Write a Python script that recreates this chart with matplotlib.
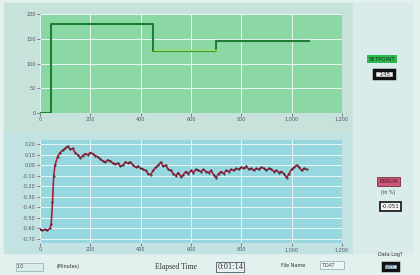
import numpy as np
import matplotlib
matplotlib.use('Agg')
import matplotlib.pyplot as plt
from matplotlib.patches import Rectangle

# setpoint (top chart)
sp_t = [0, 44, 44, 450, 450, 700, 700, 1070]
sp_v = [0, 0, 180, 180, 125, 125, 145, 145]
pv_t = [452, 700]
pv_v = [128, 128]

# error (bottom chart)
err_t = [0, 10, 20, 30, 40, 45, 50, 55] + list(range(60, 1061, 10))
err_v = [-0.61, -0.62, -0.61, -0.62, -0.60, -0.56, -0.35, -0.10,
         0.00, 0.08, 0.12, 0.14, 0.16, 0.18, 0.15, 0.16, 0.12, 0.10,
         0.07, 0.09, 0.11, 0.10, 0.12, 0.11, 0.09, 0.08, 0.06, 0.04,
         0.03, 0.05, 0.04, 0.02, 0.01, 0.02, -0.01, 0.00, 0.03, 0.02,
         0.03, 0.00, -0.02, -0.01, -0.03, -0.04, -0.05, -0.08, -0.09, -0.05,
         -0.02, 0.00, 0.03, -0.01, 0.00, -0.04, -0.05, -0.08, -0.10, -0.07,
         -0.11, -0.09, -0.06, -0.08, -0.05, -0.07, -0.04, -0.05, -0.06, -0.04,
         -0.06, -0.07, -0.05, -0.09, -0.12, -0.08, -0.06, -0.08, -0.05, -0.06,
         -0.04, -0.05, -0.03, -0.04, -0.02, -0.03, -0.01, -0.04, -0.03, -0.05,
         -0.03, -0.04, -0.02, -0.03, -0.05, -0.03, -0.04, -0.06, -0.05, -0.07,
         -0.06, -0.08, -0.12, -0.08, -0.04, -0.02, 0.00, -0.02, -0.05, -0.03,
         -0.04]

x_ticks = [0, 200, 400, 600, 800, 1000, 1200]
x_labels = ['0', '200', '400', '600', '800', '1,000', '1,200']
sp_ticks = [0, 50, 100, 150, 200]
err_ticks = [0.20, 0.10, 0.00, -0.10, -0.20, -0.30, -0.40, -0.50, -0.60, -0.70]


def style_axes(ax, face):
    ax.set_facecolor(face)
    ax.grid(True, color='#e8f6f2', lw=0.7)
    ax.set_axisbelow(True)
    for s in ax.spines.values():
        s.set_visible(False)
    ax.tick_params(labelsize=3.5, length=2, width=0.5, colors='#556', pad=1)
    ax.set_xticks(x_ticks)
    ax.set_xticklabels(x_labels)
    ax.set_xlim(0, 1200)


fig = plt.figure(figsize=(4.2, 2.75), dpi=100)
fig.patch.set_facecolor('#e2f0ee')

# background panels
panels = [((0.01, 0.525), 0.83, 0.465, '#c6e2da'),
          ((0.01, 0.08), 0.83, 0.44, '#c3e2e2'),
          ((0.84, 0.08), 0.14, 0.91, '#d9eceb')]
for xy, w, h, col in panels:
    fig.patches.append(Rectangle(xy, w, h, transform=fig.transFigure,
                                 color=col, zorder=-10))

ax1 = fig.add_axes([0.095, 0.589, 0.719, 0.36])
style_axes(ax1, '#8cd8a4')
ax1.plot(sp_t, sp_v, color='#1f7f34', lw=1.5)
ax1.plot(pv_t, pv_v, color='#a7e25a', lw=1.0)
ax1.set_ylim(0, 200)
ax1.set_yticks(sp_ticks)

ax2 = fig.add_axes([0.095, 0.116, 0.719, 0.375])
style_axes(ax2, '#97d7df')
ax2.plot(err_t, err_v, color='#b01e3c', lw=1.2)
ax2.plot(err_t, err_v, ls='none', marker='.', ms=1.0, color='#402030')
ax2.set_ylim(-0.74, 0.24)
ax2.set_yticks(err_ticks)
ax2.set_yticklabels(['%.2f' % v for v in err_ticks])

# right side widgets
fig.text(0.91, 0.785, 'SETPOINT', fontsize=4, color='#0b3d12', ha='center', va='center',
         bbox=dict(boxstyle='square,pad=0.3', fc='#2cba50', ec='none'))
fig.text(0.915, 0.73, '  145  ', fontsize=4, color='#222', ha='center', va='center',
         bbox=dict(boxstyle='square,pad=0.25', fc='#f0f0f0', ec='#111', lw=2.5))
fig.text(0.925, 0.34, 'ERROR', fontsize=4, color='#5a1020', ha='center', va='center',
         bbox=dict(boxstyle='square,pad=0.4', fc='#c9587a', ec='#7a2a3a', lw=0.6))
fig.text(0.925, 0.30, '(in %)', fontsize=3.5, color='#333', ha='center', va='center')
fig.text(0.93, 0.25, '-0.051', fontsize=4, color='#222', ha='center', va='center',
         bbox=dict(boxstyle='square,pad=0.35', fc='#f4f4f4', ec='#111', lw=1.2))

# bottom widgets
fig.text(0.07, 0.03, '10            ', fontsize=3.5, color='#444', ha='center', va='center',
         bbox=dict(boxstyle='square,pad=0.3', fc='#dcecec', ec='#8aa', lw=0.5))
fig.text(0.135, 0.03, '(Minutes)', fontsize=3.5, color='#333', ha='left', va='center')
fig.text(0.37, 0.028, 'Elapsed Time', fontsize=5.5, color='#333', ha='left', va='center',
         family='Liberation Serif')
fig.text(0.548, 0.03, '0:01:14', fontsize=6, color='#333', ha='center', va='center',
         family='Liberation Serif',
         bbox=dict(boxstyle='square,pad=0.15', fc='#e8f2f2', ec='#556', lw=0.6))
fig.text(0.67, 0.035, 'File Name', fontsize=3.5, color='#333', ha='left', va='center')
fig.text(0.79, 0.035, 'T.DAT     ', fontsize=3.5, color='#444', ha='center', va='center',
         bbox=dict(boxstyle='square,pad=0.3', fc='#eef6f6', ec='#8aa', lw=0.5))
fig.text(0.93, 0.075, 'Data Log?', fontsize=3.5, color='#333', ha='center', va='center')
fig.text(0.93, 0.03, ' OFF ', fontsize=3.5, color='#446', ha='center', va='center',
         bbox=dict(boxstyle='square,pad=0.25', fc='#b8d8e0', ec='#111', lw=2.5))

fig.savefig('out.png', dpi=100, facecolor=fig.get_facecolor())
